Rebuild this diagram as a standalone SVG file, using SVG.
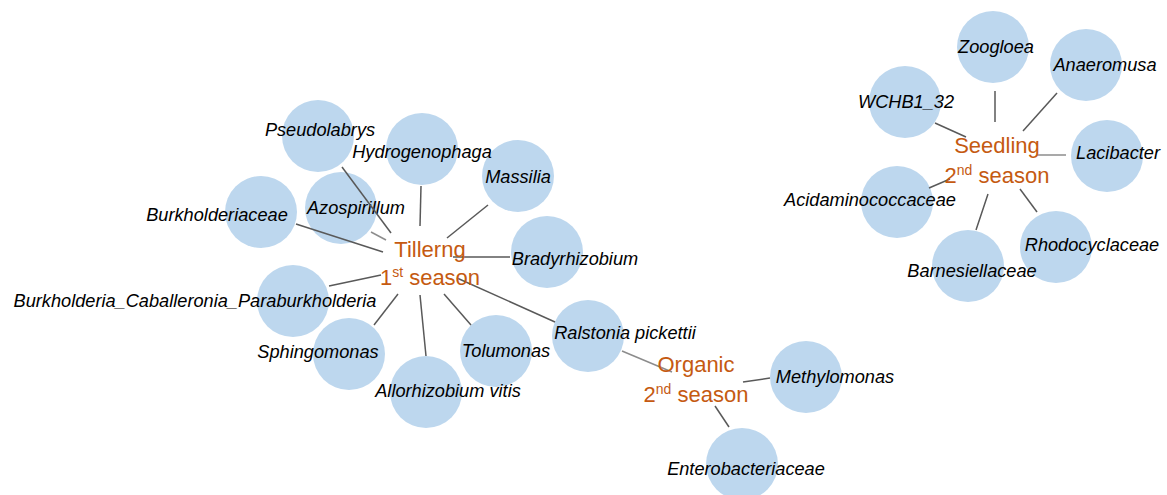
<svg xmlns="http://www.w3.org/2000/svg" width="1167" height="495" viewBox="0 0 1167 495">
<style>
.n{fill:#BDD7EE}
.l{font-family:"Liberation Sans",Arial,sans-serif;font-style:italic;font-size:18.2px;fill:#000;text-anchor:middle}
.h{font-family:"Liberation Sans",Arial,sans-serif;font-size:22px;fill:#C55A11;text-anchor:middle}
.s{font-size:14px}
#edges line{stroke:#595959;stroke-width:1.5}
#edges line.lt{stroke:#8C8C8C}
</style>
<rect width="1167" height="495" fill="#fff"/>
<g id="n-pseudolabrys"><circle class="n" cx="318" cy="136" r="36"/><text class="l" x="320" y="136">Pseudolabrys</text></g>
<g id="n-massilia"><circle class="n" cx="518" cy="176" r="36"/><text class="l" x="518" y="183">Massilia</text></g>
<g id="n-hydrogenophaga"><circle class="n" cx="422" cy="149" r="36"/><text class="l" x="422" y="158">Hydrogenophaga</text></g>
<g id="n-burkholderiaceae"><circle class="n" cx="261" cy="212" r="36"/><text class="l" x="217" y="221">Burkholderiaceae</text></g>
<g id="n-azospirillum"><circle class="n" cx="341" cy="208" r="36"/><text class="l" x="356" y="214">Azospirillum</text></g>
<g id="n-bradyrhizobium"><circle class="n" cx="547" cy="252" r="36"/><text class="l" x="575" y="265">Bradyrhizobium</text></g>
<g id="n-burkholderia-cp"><circle class="n" cx="293" cy="301" r="36"/><text class="l" x="195" y="307">Burkholderia_Caballeronia_Paraburkholderia</text></g>
<g id="n-sphingomonas"><circle class="n" cx="349" cy="354" r="36"/><text class="l" x="318" y="358">Sphingomonas</text></g>
<g id="n-tolumonas"><circle class="n" cx="496" cy="351" r="36"/><text class="l" x="506" y="357">Tolumonas</text></g>
<g id="n-allorhizobium"><circle class="n" cx="426" cy="392" r="36"/><text class="l" x="448" y="397">Allorhizobium vitis</text></g>
<g id="n-ralstonia"><circle class="n" cx="588" cy="336" r="36"/><text class="l" x="625" y="339">Ralstonia pickettii</text></g>
<g id="n-methylomonas"><circle class="n" cx="806" cy="377" r="36"/><text class="l" x="835" y="383">Methylomonas</text></g>
<g id="n-enterobacteriaceae"><circle class="n" cx="742" cy="464" r="36"/><text class="l" x="746" y="475">Enterobacteriaceae</text></g>
<g id="n-zoogloea"><circle class="n" cx="993" cy="47" r="36"/><text class="l" x="996" y="53">Zoogloea</text></g>
<g id="n-anaeromusa"><circle class="n" cx="1086" cy="65" r="36"/><text class="l" x="1105" y="71">Anaeromusa</text></g>
<g id="n-wchb1"><circle class="n" cx="905" cy="102" r="36"/><text class="l" x="906" y="108">WCHB1_32</text></g>
<g id="n-lacibacter"><circle class="n" cx="1107" cy="156" r="36"/><text class="l" x="1118" y="159">Lacibacter</text></g>
<g id="n-acidaminococcaceae"><circle class="n" cx="897" cy="202" r="36"/><text class="l" x="870" y="206">Acidaminococcaceae</text></g>
<g id="n-rhodocyclaceae"><circle class="n" cx="1056" cy="247" r="36"/><text class="l" x="1092" y="251">Rhodocyclaceae</text></g>
<g id="n-barnesiellaceae"><circle class="n" cx="968" cy="266" r="36"/><text class="l" x="972" y="277">Barnesiellaceae</text></g>
<g id="edges">
<line x1="342" y1="167" x2="391" y2="233"/>
<line x1="421" y1="186" x2="420" y2="226"/>
<line x1="488" y1="205" x2="447" y2="238"/>
<line x1="296" y1="224" x2="383" y2="252"/>
<line class="lt" x1="371" y1="232" x2="386" y2="240"/>
<line x1="453" y1="257" x2="510" y2="257"/>
<line x1="329" y1="286" x2="381" y2="275"/>
<line x1="374" y1="325" x2="398" y2="294"/>
<line x1="426" y1="356" x2="420" y2="295"/>
<line x1="471" y1="325" x2="444" y2="294"/>
<line x1="457" y1="278" x2="555" y2="322"/>
<line class="lt" x1="622" y1="351" x2="672" y2="372"/>
<line x1="743" y1="382" x2="770" y2="378"/>
<line x1="715" y1="406" x2="729" y2="427"/>
<line x1="995" y1="91" x2="995" y2="122"/>
<line x1="1057" y1="93" x2="1023" y2="131"/>
<line x1="935" y1="123" x2="966" y2="137"/>
<line class="lt" x1="1037" y1="155" x2="1066" y2="155"/>
<line x1="929" y1="188" x2="950" y2="179"/>
<line x1="976" y1="230" x2="988" y2="194"/>
<line x1="1037" y1="212" x2="1020" y2="189"/>
</g>
<g id="hub-tillerng"><text class="h" x="430" y="257">Tillerng</text><text class="h" x="430" y="285">1<tspan class="s" dy="-8">st</tspan><tspan dy="8"> season</tspan></text></g>
<g id="hub-organic"><text class="h" x="696" y="372">Organic</text><text class="h" x="696" y="402">2<tspan class="s" dy="-8">nd</tspan><tspan dy="8"> season</tspan></text></g>
<g id="hub-seedling"><text class="h" x="997" y="153">Seedling</text><text class="h" x="997" y="183">2<tspan class="s" dy="-8">nd</tspan><tspan dy="8"> season</tspan></text></g>
</svg>
